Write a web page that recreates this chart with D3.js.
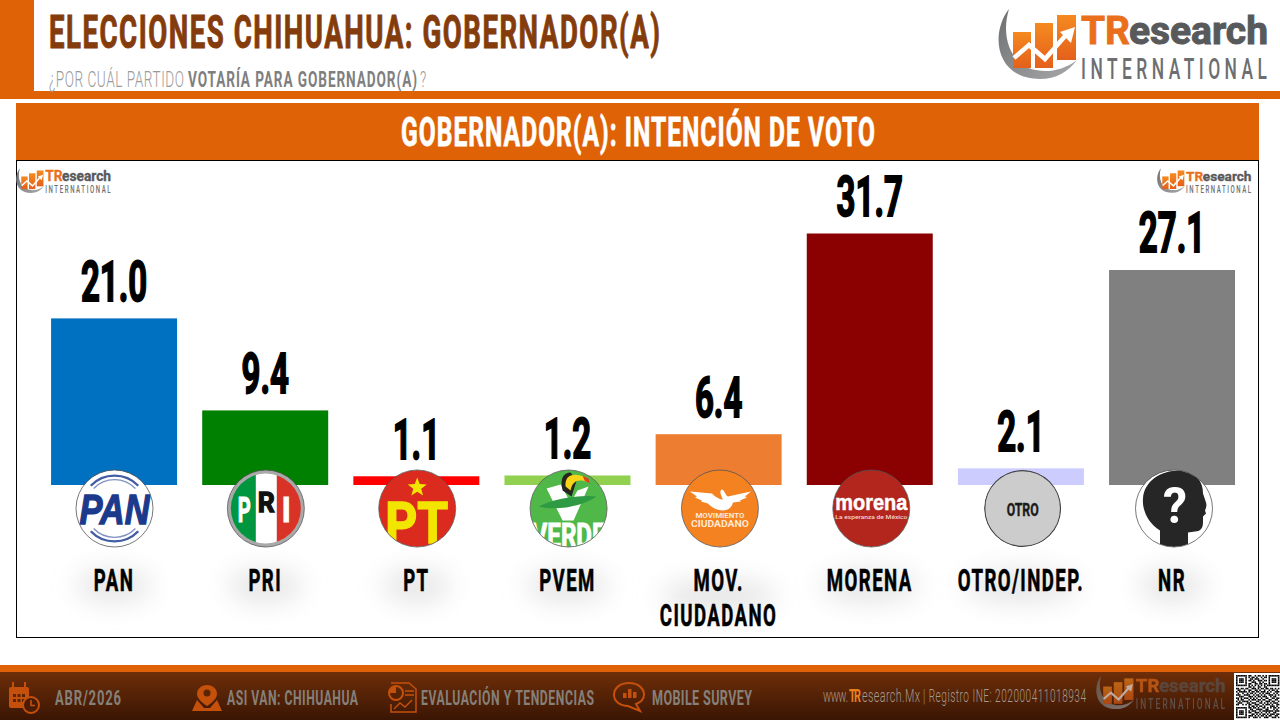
<!DOCTYPE html>
<html lang="es">
<head>
<meta charset="utf-8">
<title>Elecciones Chihuahua: Gobernador(a)</title>
<script src="https://cdn.jsdelivr.net/npm/d3@7/dist/d3.min.js"></script>
<style>
html,body{margin:0;padding:0;background:#fff;overflow:hidden}
svg{display:block}
text{font-family:Roboto,"Liberation Sans",sans-serif}
</style>
</head>
<body>
<svg id="chart" width="1280" height="720" viewBox="0 0 1280 720"></svg>
<script>
// Vote intention by party
const categories = ["PAN", "PRI", "PT", "PVEM", "MOV. CIUDADANO", "MORENA", "OTRO/INDEP.", "NR"];
const values = [21.0, 9.4, 1.1, 1.2, 6.4, 31.7, 2.1, 27.1];
const barColors = ["#0070c0", "#008000", "#ff0000", "#92d050", "#ed7d31", "#8b0000", "#ccccff", "#808080"];
const footerItems = ["ABR/2026", "ASI VAN: CHIHUAHUA", "EVALUACIÓN Y TENDENCIAS", "MOBILE SURVEY"];

const ORANGE = "#df6306";
const svg = d3.select("#chart");
const defs = svg.append("defs");

// Gradients and blur used across the page
const footGrad = defs.append("linearGradient").attr("id", "footGrad").attr("x1", 0).attr("y1", 0).attr("x2", 0).attr("y2", 1);
footGrad.append("stop").attr("offset", 0).attr("stop-color", "#6e2e08");
footGrad.append("stop").attr("offset", 1).attr("stop-color", "#3a1604");
const moon = defs.append("linearGradient").attr("id", "moon").attr("x1", 0).attr("y1", 0).attr("x2", 1).attr("y2", 1);
moon.append("stop").attr("offset", 0).attr("stop-color", "#6d6e70");
moon.append("stop").attr("offset", 1).attr("stop-color", "#a7a9ab");
const barGrad = defs.append("linearGradient").attr("id", "markBar").attr("x1", 0).attr("y1", 0).attr("x2", 0).attr("y2", 1);
barGrad.append("stop").attr("offset", 0).attr("stop-color", "#f58a1f");
barGrad.append("stop").attr("offset", 1).attr("stop-color", "#e4601c");
defs.append("filter").attr("id", "soft").attr("x", "-80%").attr("y", "-120%").attr("width", "260%").attr("height", "340%")
  .append("feGaussianBlur").attr("stdDeviation", 13);

// Narrowed glyphs with added tracking, filling a set width
function tracked(parent, str, x, y, width, size, fill, opts) {
  const o = Object.assign({ sx: 0.6, weight: 700, stroke: 0 }, opts);
  const t = parent.append("text")
    .attr("transform", `translate(${x},${y}) scale(${o.sx},1)`)
    .attr("textLength", width / o.sx).attr("lengthAdjust", "spacing")
    .attr("font-size", size).attr("font-weight", o.weight)
    .attr("fill", fill).text(str);
  if (o.stroke) t.attr("stroke", fill).attr("stroke-width", o.stroke);
  return t;
}

// Single glyphs or short words squeezed straight into a width
function squeezed(parent, str, x, y, width, size, fill, stroke) {
  const t = parent.append("text").attr("x", x).attr("y", y)
    .attr("textLength", width).attr("lengthAdjust", "spacingAndGlyphs")
    .attr("font-size", size).attr("font-weight", 700).attr("fill", fill).text(str);
  if (stroke) t.attr("stroke", fill).attr("stroke-width", stroke);
  return t;
}

// Company mark: crescent, rising bars, arrow and wordmark
function brandMark(x, y, k, opacity) {
  const g = svg.append("g").attr("transform", `translate(${x},${y}) scale(${k})`).attr("opacity", opacity || 1);
  g.append("path").attr("fill", "url(#moon)")
    .attr("d", "M11 1C-8 25-3 71 42 71C58 71 70 64 79 52C66 62 50 65 38 62C14 58 2 30 11 1Z");
  [[15, 24, 18, 36], [37, 15, 18, 45], [59, 7, 19, 45]].forEach(b =>
    g.append("rect").attr("x", b[0]).attr("y", b[1]).attr("width", b[2]).attr("height", b[3]).attr("fill", "url(#markBar)"));
  g.append("path").attr("fill", "none").attr("stroke", "#fff").attr("stroke-width", 4.5)
    .attr("d", "M16 50L31 37L47 51L68 27");
  g.append("path").attr("fill", "#fff").attr("d", "M62 24L77 19L73 35Z");
  squeezed(g, "TR", 83, 36, 49, 39, "#ea6f1c", 0.8);
  squeezed(g, "esearch", 131, 36, 139, 39, "#58595b", 1);
  tracked(g, "INTERNATIONAL", 83, 71, 186, 29, "#6d6e70", { sx: 0.6, weight: 500 });
}

// Page header
svg.append("rect").attr("x", 0).attr("y", 0).attr("width", 34).attr("height", 99).attr("fill", ORANGE);
svg.append("rect").attr("x", 0).attr("y", 91).attr("width", 1280).attr("height", 8).attr("fill", ORANGE);
tracked(svg, "ELECCIONES CHIHUAHUA: GOBERNADOR(A)", 49, 48, 611, 46, "#843c0c", { sx: 0.6, stroke: 1 });
tracked(svg, "¿POR CUÁL PARTIDO", 49, 87, 135, 22, "#9a9a9a", { sx: 0.62, weight: 300 });
tracked(svg, "VOTARÍA PARA GOBERNADOR(A)", 188, 87, 229, 22, "#7f7f7f", { sx: 0.62 });
tracked(svg, "?", 420, 87, 5, 22, "#9a9a9a", { sx: 0.62, weight: 300 });
brandMark(998, 8, 1);

// Chart panel
svg.append("rect").attr("x", 16).attr("y", 103).attr("width", 1243).attr("height", 57).attr("fill", ORANGE);
tracked(svg, "GOBERNADOR(A): INTENCIÓN DE VOTO", 401, 146, 474, 41, "#fff", { sx: 0.6, stroke: 0.8 });
svg.append("rect").attr("x", 16.5).attr("y", 160.5).attr("width", 1242).attr("height", 477)
  .attr("fill", "#fff").attr("stroke", "#000");
brandMark(16, 168, 0.352);
brandMark(1157, 168, 0.35);

// Scales
const x = d3.scaleBand().domain(categories).range([38.5, 1247.6]).paddingInner(0.1664).paddingOuter(0.0832);
const y = d3.scaleLinear().domain([0, 31.7]).range([485, 233.5]);
const badgeX = d3.scalePoint().domain(categories).range([114.5, 1174]);
const colour = d3.scaleOrdinal().domain(categories).range(barColors);
const mid = c => x(c) + x.bandwidth() / 2;
const rows = categories.map((c, i) => ({ c, v: values[i] }));
const labelLines = c => c.startsWith("MOV.") ? c.split(" ") : [c];

// Soft glow under the category names
svg.append("g").selectAll("ellipse").data(rows).join("ellipse")
  .attr("cx", d => mid(d.c)).attr("cy", d => labelLines(d.c).length > 1 ? 596 : 586)
  .attr("rx", d => 26 + Math.min(d.c.length, 8) * 4).attr("ry", 17)
  .attr("fill", "#d2d2d2").attr("opacity", 0.55).attr("filter", "url(#soft)");

// Bars
svg.append("g").selectAll("rect").data(rows).join("rect")
  .attr("x", d => x(d.c)).attr("y", d => y(d.v))
  .attr("width", x.bandwidth()).attr("height", d => y(0) - y(d.v))
  .attr("fill", d => colour(d.c));

// Value labels
svg.append("g").selectAll("text").data(rows).join("text")
  .attr("transform", d => `translate(${mid(d.c)},${y(d.v) - 17.5}) scale(0.6,1)`)
  .attr("text-anchor", "middle").attr("font-size", 55).attr("font-weight", 700)
  .attr("stroke", "#000").attr("stroke-width", 1.8)
  .attr("fill", "#000").text(d => d.v.toFixed(1));

// Category names, wrapped on the space for the long party name
const names = svg.append("g").selectAll("g").data(rows).join("g");
names.each(function (d) {
  d3.select(this).selectAll("text").data(labelLines(d.c)).join("text")
    .attr("transform", (_, i) => `translate(${mid(d.c)},${591 + i * 35}) scale(0.6,1)`)
    .attr("text-anchor", "middle").attr("font-size", 31).attr("font-weight", 700)
    .attr("letter-spacing", 2.4).attr("stroke", "#000").attr("stroke-width", 0.6)
    .attr("fill", "#000").text(t => t);
});

// Party emblems
const R = 38.5;
function star(r) {
  return d3.range(10).map(i => {
    const a = -Math.PI / 2 + i * Math.PI / 5, q = i % 2 ? r * 0.42 : r;
    return (i ? "L" : "M") + (q * Math.cos(a)).toFixed(2) + " " + (q * Math.sin(a)).toFixed(2);
  }).join("") + "Z";
}
const emblem = {
  "PAN": g => {
    g.append("circle").attr("r", R).attr("fill", "#fff");
    [[33, 2.4, 0.9], [29, 1.4, 0.6]].forEach(a => {
      g.append("path").attr("d", `M${-a[0] * 0.72} ${-a[0] * 0.69}A${a[0]} ${a[0]} 0 0 1 ${a[0] * 0.72} ${-a[0] * 0.69}`)
        .attr("fill", "none").attr("stroke", "#2f4b9b").attr("stroke-width", a[1]).attr("opacity", a[2]);
      g.append("path").attr("d", `M${-a[0] * 0.72} ${a[0] * 0.69}A${a[0]} ${a[0]} 0 0 0 ${a[0] * 0.72} ${a[0] * 0.69}`)
        .attr("fill", "none").attr("stroke", "#2f4b9b").attr("stroke-width", a[1]).attr("opacity", a[2]);
    });
    g.append("text").attr("x", 0).attr("y", 15).attr("text-anchor", "middle")
      .attr("textLength", 70).attr("lengthAdjust", "spacingAndGlyphs")
      .attr("font-size", 42).attr("font-weight", 700).attr("font-style", "italic")
      .attr("stroke", "#1c3a8c").attr("stroke-width", 1.4)
      .style("font-family", "'Liberation Sans',sans-serif").attr("fill", "#1c3a8c").text("PAN");
  },
  "PRI": g => {
    g.append("circle").attr("r", R).attr("fill", "#a9a9a9");
    const s = g.append("g").attr("clip-path", "url(#inner34)");
    s.append("rect").attr("x", -36).attr("y", -36).attr("width", 26).attr("height", 72).attr("fill", "#009640");
    s.append("rect").attr("x", -10).attr("y", -36).attr("width", 21).attr("height", 72).attr("fill", "#fff");
    s.append("rect").attr("x", 11).attr("y", -36).attr("width", 25).attr("height", 72).attr("fill", "#d93327");
    squeezed(g, "P", -28, 13, 13, 35, "#fff", 1.2);
    squeezed(g, "R", -8, 3, 17, 28, "#111", 1.4);
    squeezed(g, "I", 16, 13, 9, 35, "#fff", 1);
  },
  "PT": g => {
    g.append("circle").attr("r", R).attr("fill", "#db2a1e");
    g.append("path").attr("d", star(10)).attr("transform", "translate(0,-21)").attr("fill", "#f2e600");
    squeezed(g, "PT", -32, 34, 63, 58, "#f2e600", 1.6);
  },
  "PVEM": g => {
    g.append("circle").attr("r", R).attr("fill", "#4fb848");
    g.append("path").attr("fill", "#fff").attr("d", "M-22 -20L-8 -24L2 -6L9 -18L20 -22L5 12L-6 12Z");
    g.append("path").attr("fill", "#2f9a44").attr("d", "M-30 -2C-15 -10 12 -14 28 -12C15 -3 -10 3 -30 -2Z");
    g.append("path").attr("fill", "#26261f").attr("d", "M-6 -18C-9 -30 -5 -36 2 -36L8 -28L3 -12Z");
    g.append("path").attr("fill", "#f7d417").attr("d", "M-3 -22C-4 -33 4 -37 18 -31L20 -26C10 -30 4 -28 2 -18Z");
    g.append("path").attr("fill", "#d8431f").attr("d", "M14 -33L20 -30L21 -25L16 -28Z");
    squeezed(g, "VERDE", -37, 38, 74, 33, "#fff", 1);
  },
  "MOV. CIUDADANO": g => {
    g.append("circle").attr("r", R).attr("fill", "#f58220");
    g.append("path").attr("fill", "#fff")
      .attr("d", "M-30 -17L-8 -15C-4 -11 0 -9 3 -9C1 -13 -1 -18 2 -19C5 -18 5 -14 8 -12L31 -17L25 -12L27 -11L20 -8L21 -7L13 -6C12 -1 8 2 3 2C-3 2 -8 -1 -12 -5L-19 -7L-18 -8L-25 -11L-23 -12Z");
    g.append("text").attr("y", 9).attr("text-anchor", "middle").attr("font-size", 7).attr("font-weight", 700)
      .attr("textLength", 49).attr("lengthAdjust", "spacingAndGlyphs").attr("fill", "#fde8d2").text("MOVIMIENTO");
    g.append("text").attr("y", 18).attr("text-anchor", "middle").attr("font-size", 9).attr("font-weight", 700)
      .attr("textLength", 58).attr("lengthAdjust", "spacingAndGlyphs").attr("fill", "#fde8d2").text("CIUDADANO");
  },
  "MORENA": g => {
    g.append("circle").attr("r", R).attr("fill", "#b3261e");
    g.append("text").attr("y", 1).attr("text-anchor", "middle").attr("font-size", 22).attr("font-weight", 700)
      .attr("textLength", 72).attr("lengthAdjust", "spacingAndGlyphs")
      .attr("stroke", "#fff").attr("stroke-width", 0.5)
      .style("font-family", "'Liberation Sans',sans-serif").attr("fill", "#fff").text("morena");
    g.append("text").attr("y", 10).attr("text-anchor", "middle").attr("font-size", 6).attr("font-weight", 500)
      .attr("textLength", 72).attr("lengthAdjust", "spacingAndGlyphs").attr("fill", "#f3d3d0").text("La esperanza de México");
  },
  "OTRO/INDEP.": g => {
    g.append("circle").attr("r", R - 0.5).attr("fill", "#cccccc").attr("stroke", "#444").attr("stroke-width", 1.4);
    squeezed(g, "OTRO", -16, 7, 32, 19, "#1a1a1a", 0.4);
  },
  "NR": g => {
    g.append("circle").attr("r", R).attr("fill", "#fff");
    g.append("path").attr("fill", "#262626").attr("clip-path", "url(#inner38)")
      .attr("d", "M-14 40L-14 22C-27 14 -32 0 -31 -10C-30 -28 -12 -39 8 -38C22 -37 29 -27 29 -15L32 -6C33 -3 32 0 31 2L32 5L29 8L29 14C29 20 26 23 21 23L14 24L14 40Z");
    g.append("text").attr("x", 1).attr("y", 14).attr("text-anchor", "middle").attr("font-size", 50).attr("font-weight", 700)
      .attr("textLength", 24).attr("lengthAdjust", "spacingAndGlyphs").attr("fill", "#fff").text("?");
  }
};
defs.append("clipPath").attr("id", "inner34").append("circle").attr("r", 35);
defs.append("clipPath").attr("id", "inner38").append("circle").attr("r", R);
defs.append("clipPath").attr("id", "disc").append("circle").attr("r", R);

const badges = svg.append("g").selectAll("g").data(rows).join("g")
  .attr("transform", d => `translate(${badgeX(d.c)},508.5)`);
badges.each(function (d) {
  const g = d3.select(this);
  emblem[d.c](g.append("g").attr("clip-path", "url(#disc)"));
  if (d.c !== "OTRO/INDEP.") g.append("circle").attr("r", R).attr("fill", "none").attr("stroke", "#555").attr("stroke-width", 0.8);
});

// Footer band
svg.append("rect").attr("x", 0).attr("y", 665).attr("width", 1280).attr("height", 7).attr("fill", ORANGE);
svg.append("rect").attr("x", 0).attr("y", 672).attr("width", 1280).attr("height", 48).attr("fill", "url(#footGrad)");

const FOOT = "#85807a", ICON = "#c4500c";
tracked(svg, footerItems[0], 55, 705, 66, 21, FOOT, { sx: 0.62 });
tracked(svg, footerItems[1], 227, 705, 131, 21, FOOT, { sx: 0.58 });
tracked(svg, footerItems[2], 421, 705, 173, 21, FOOT, { sx: 0.58 });
tracked(svg, footerItems[3], 652, 705, 100, 21, FOOT, { sx: 0.6 });

// Calendar icon
const cal = svg.append("g").attr("fill", ICON);
cal.append("rect").attr("x", 9).attr("y", 687).attr("width", 20).attr("height", 21).attr("rx", 2);
cal.append("rect").attr("x", 12).attr("y", 682).attr("width", 2).attr("height", 7);
cal.append("rect").attr("x", 24).attr("y", 682).attr("width", 2).attr("height", 7);
d3.range(3).forEach(c => d3.range(2).forEach(r =>
  svg.append("rect").attr("x", 13 + c * 4.5).attr("y", 694 + r * 5).attr("width", 3).attr("height", 3).attr("fill", "#5a2407")));
svg.append("circle").attr("cx", 31).attr("cy", 705).attr("r", 8).attr("fill", "#4a1c05").attr("stroke", ICON).attr("stroke-width", 2);
svg.append("path").attr("d", "M31 700V705.5H35").attr("fill", "none").attr("stroke", ICON).attr("stroke-width", 1.6);

// Map pin icon
svg.append("path").attr("fill", ICON).attr("d", "M207 685C201 685 197 689 197 694C197 700 207 706 207 706C207 706 217 700 217 694C217 689 213 685 207 685Z");
svg.append("circle").attr("cx", 207).attr("cy", 693).attr("r", 3.5).attr("fill", "#5a2407");
svg.append("path").attr("fill", ICON).attr("d", "M197 700L192 711H222L217 700L210 708H204Z");

// Report icon
svg.append("path").attr("fill", "none").attr("stroke", ICON).attr("stroke-width", 1.5).attr("d", "M391 683H409L416 689V712H391V704");
svg.append("circle").attr("cx", 396).attr("cy", 693).attr("r", 7).attr("fill", "none").attr("stroke", ICON).attr("stroke-width", 2);
svg.append("path").attr("fill", ICON).attr("d", "M396 693V686A7 7 0 0 0 389 693Z");
svg.append("path").attr("fill", "none").attr("stroke", ICON).attr("stroke-width", 1.4).attr("d", "M405 691H414M405 695H414M394 709L400 703L405 707L412 700");

// Speech bubble icon
svg.append("path").attr("fill", "none").attr("stroke", ICON).attr("stroke-width", 2).attr("d", "M629 683C620 683 614 688 614 695C614 701 620 706 628 706L640 711L636 704C641 702 644 699 644 695C644 688 638 683 629 683Z");
[[623, 5], [628, 9], [633, 6]].forEach(b =>
  svg.append("rect").attr("x", b[0]).attr("y", 698 - b[1]).attr("width", 3.5).attr("height", b[1]).attr("fill", ICON));

// Registration line
const REG = "#a49a8e";
tracked(svg, "www.", 823, 702, 25, 18, REG, { sx: 0.6, weight: 300 });
tracked(svg, "TR", 849, 702, 12, 18, "#e8801f", { sx: 0.6 });
tracked(svg, "esearch.Mx", 862, 702, 58, 18, REG, { sx: 0.6, weight: 300 });
tracked(svg, "| Registro INE: 202000411018934", 923, 702, 163, 18, REG, { sx: 0.56, weight: 300 });

brandMark(1096, 675, 0.48, 0.62);

// QR code block
const qrRows = [
  "1111111011001011010101111111",
  "1000001010110100101101000001",
  "1011101001101110010001011101",
  "1011101011010011101101011101",
  "1011101000111001010001011101",
  "1000001011001101101101000001",
  "1111111010101010101011111111",
  "0000000011010011001100000000",
  "1101101100111010110110110101",
  "0110010011001101001001011010",
  "1011111010110110111010100111",
  "0100100101101001010111001010",
  "1110011110010110101001110101",
  "0011100011101011011100101100",
  "1101011101010100100110011011",
  "0101100010111011011001100110",
  "1010111101000110100111011001",
  "0111000110111001101010101110",
  "1100101011001110010111010011",
  "0000000010110101101000111010",
  "1111111011011010011010101101",
  "1000001001100111100110001010",
  "1011101010111001011111110111",
  "1011101011001110100101001100",
  "1011101000110101011010111011",
  "1000001011101010110101100110",
  "1111111010011101001110011101"
];
svg.append("rect").attr("x", 1234).attr("y", 673).attr("width", 46).attr("height", 47).attr("fill", "#fff");
const qr = svg.append("g").attr("fill", "#000");
qrRows.forEach((row, r) => row.split("").forEach((bit, c) => {
  if (bit === "1") qr.append("rect").attr("x", 1236 + c * 1.55).attr("y", 675 + r * 1.6).attr("width", 1.55).attr("height", 1.6);
}));
</script>
</body>
</html>
